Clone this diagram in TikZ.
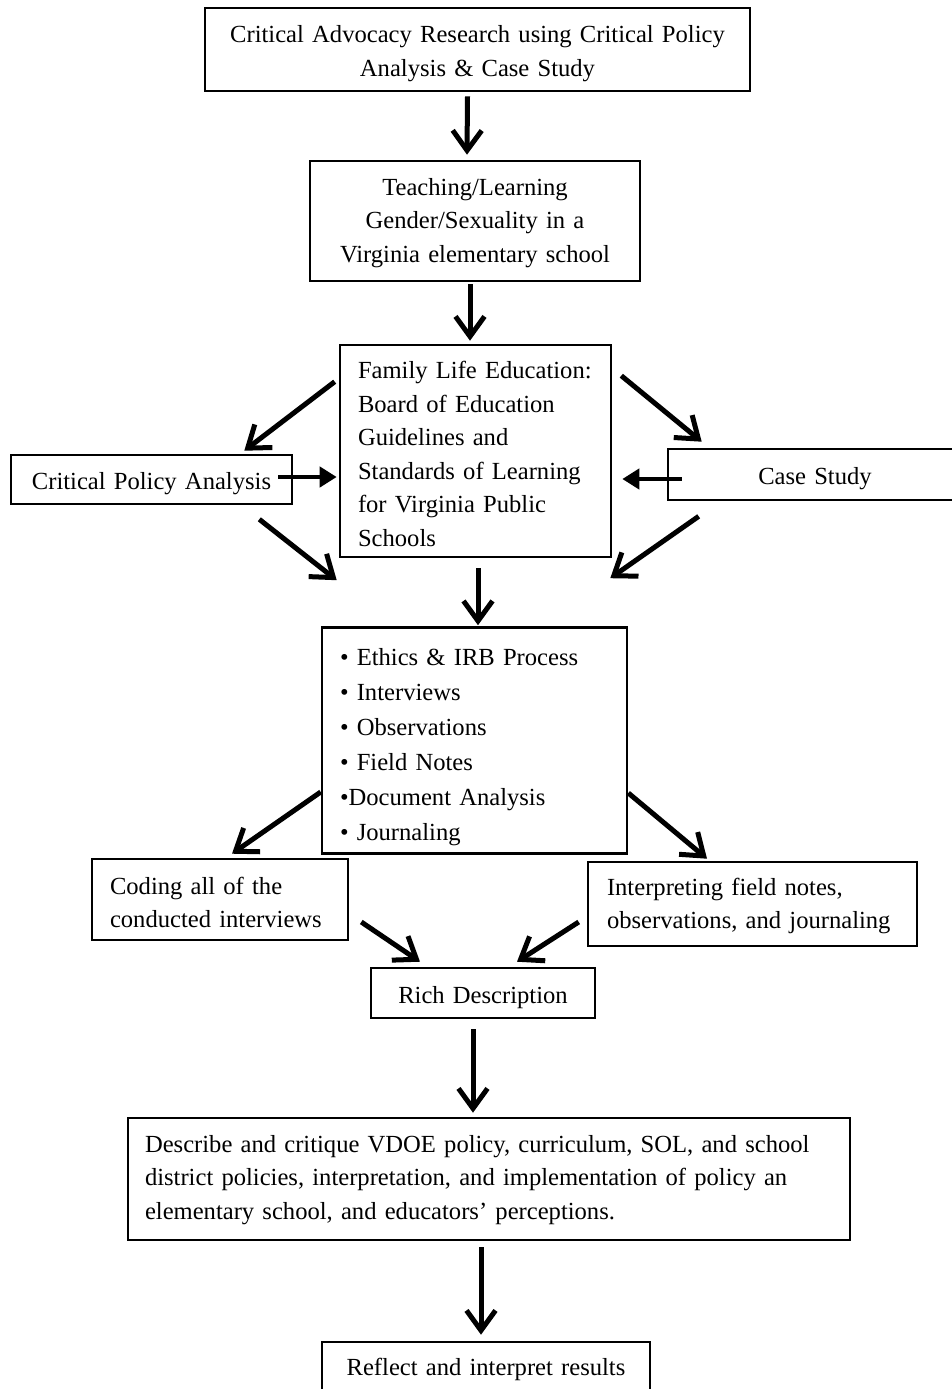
\documentclass[tikz,border=0pt]{standalone}
\usepackage{fontspec}
\setmainfont{Liberation Serif}
\usetikzlibrary{arrows.meta,calc}
\newcommand\dn[1]{\rule{0pt}{\dimexpr16.8pt+#1pt+#1pt\relax}}
\begin{document}
\begin{tikzpicture}[x=1pt,y=-1pt,
  box/.style={draw, line width=2.6pt, inner sep=0pt, font=\fontsize{24.6}{33.5}\selectfont},
  cbox/.style={box, align=center},
  lbox/.style={box, align=left, inner xsep=18pt},
  arr/.style={line width=5pt, -{Straight Barb[length=20pt,width=29pt]}},
  tri/.style={line width=4.4pt, -{Triangle[length=17pt,width=20pt]}}]
\useasboundingbox (0,0) rectangle (952,1389);
\clip (0,0) rectangle (952,1389);
\fill[white] (0,0) rectangle (952,1389);

\node[cbox, text width=545pt, minimum height=83pt] (top) at (477.5,49.5)
  {\dn{4.5}Critical Advocacy Research using Critical Policy\\Analysis \& Case Study};
\node[cbox, text width=330pt, minimum height=120pt] (teach) at (475,221)
  {\dn{2}Teaching/Learning\\Gender/Sexuality in a\\Virginia elementary school};
\node[lbox, text width=235pt, minimum height=212pt] (fle) at (475.5,451)
  {\dn{3}\mbox{Family Life Education:}\\\mbox{Board of Education}\\\mbox{Guidelines and}\\\mbox{Standards of Learning}\\\mbox{for Virginia Public}\\\mbox{Schools}};
\node[cbox, text width=281pt, minimum height=49pt] (cpa) at (151.5,479.5)
  {\dn{4}Critical Policy Analysis};
\node[cbox, text width=294pt, minimum height=51pt] (cs) at (815,474.5)
  {\dn{4}Case Study};
\node[lbox, text width=269pt, minimum height=226pt, font=\fontsize{24.6}{35}\selectfont] (meth) at (474.5,740.5)
  {\dn{6.5}• Ethics \& IRB Process\\• Interviews\\• Observations\\• Field Notes\\•Document Analysis\\• Journaling};
\node[lbox, text width=220pt, minimum height=81pt] (cod) at (220,899.5)
  {\dn{3}\mbox{Coding all of the}\\\mbox{conducted interviews}};
\node[lbox, inner xsep=19pt, text width=291pt, minimum height=84pt] (interp) at (752.5,904)
  {\dn{2}\mbox{Interpreting field notes,}\\\mbox{observations, and journaling}};
\node[cbox, text width=224pt, minimum height=50pt] (rich) at (483,993)
  {\dn{5}Rich Description};
\node[lbox, inner xsep=17pt, text width=688pt, minimum height=122pt] (desc) at (489,1179)
  {\dn{1}\mbox{Describe and critique VDOE policy, curriculum, SOL, and school}\\\mbox{district policies, interpretation, and implementation of policy an}\\\mbox{elementary school, and educators’ perceptions.}};
\node[cbox, text width=328pt, minimum height=52pt] (refl) at (486,1368)
  {\dn{2}Reflect and interpret results};

\draw[arr] ($(top.south)+(-10,4)$) -- ($(teach.north)+(-8,-5)$);
\draw[arr] ($(teach.south)+(-5,2)$) -- ($(fle.north)+(-5.5,-3)$);
\draw[arr] ($(fle.north west)+(-4,38)$) -- ($(cpa.north east)+(-49,-3)$);
\draw[arr] ($(fle.north east)+(9,32)$) -- ($(cs.north west)+(35,-6)$);
\draw[tri] ($(cpa.east)+(-15,-2.5)$) -- ($(fle.west)+(-2,26)$);
\draw[tri] ($(cs.west)+(15,4.5)$) -- ($(fle.east)+(10,28)$);
\draw[arr] ($(cpa.south east)+(-34,14)$) -- ($(meth.north west)+(16,-46)$);
\draw[arr] ($(cs.south west)+(32,15)$) -- ($(meth.north east)+(-18,-48)$);
\draw[arr] ($(fle.south)+(2.5,10)$) -- ($(meth.north)+(3.5,-1)$);
\draw[arr] ($(meth.west)+(0,51.5)$) -- ($(cod.north)+(12,-4)$);
\draw[arr] ($(meth.east)+(0,52.5)$) -- ($(interp.north)+(-45.5,-2)$);
\draw[arr] ($(cod.east)+(12,22.5)$) -- ($(rich.north)+(-63,-5)$);
\draw[arr] ($(interp.west)+(-8,18)$) -- ($(rich.north)+(34,-5)$);
\draw[arr] ($(rich.south)+(-10,10)$) -- ($(desc.north)+(-16,-4)$);
\draw[arr] ($(desc.south)+(-8,6)$) -- ($(refl.north)+(-5,-6)$);
\end{tikzpicture}
\end{document}
